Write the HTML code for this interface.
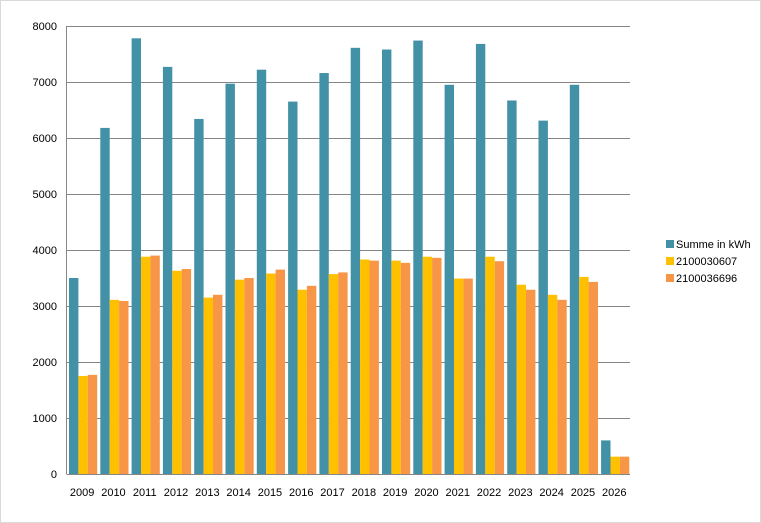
<!DOCTYPE html>
<html><head><meta charset="utf-8"><style>
html,body{margin:0;padding:0;background:#fff}
svg{display:block;font-family:"Liberation Sans",Arial,sans-serif}
</style></head><body>
<svg id="c" width="761" height="523" xmlns="http://www.w3.org/2000/svg">
<rect x="0.5" y="0.5" width="760" height="522" fill="#fff" stroke="#d9d9d9"/>
<g id="grid"></g>
<g id="bars"></g>
<g font-size="11" fill="#000">
<rect x="666" y="240" width="8" height="8" fill="#4391a6"/><text x="676" y="248">Summe in kWh</text>
<rect x="666" y="257" width="8" height="8" fill="#ffc000"/><text x="676" y="265">2100030607</text>
<rect x="666" y="274" width="8" height="8" fill="#f79646"/><text x="676" y="282">2100036696</text>
</g>
</svg>
<script>
var ns="http://www.w3.org/2000/svg",g=document.getElementById("grid"),b=document.getElementById("bars");
function el(p,t,a,txt){var e=document.createElementNS(ns,t);for(var k in a)e.setAttribute(k,a[k]);if(txt!=null)e.textContent=txt;p.appendChild(e);}
var y0=474,s=56/1000,x0=66.5,cw=31.3;
for(var i=0;i<=8;i++){var y=y0-i*56;el(g,"line",{x1:x0,x2:630,y1:y+0.5,y2:y+0.5,stroke:i==0?"#868686":"#868686","stroke-width":1});
el(g,"text",{x:57,y:y+4,"text-anchor":"end","font-size":11},String(i*1000));}
el(g,"line",{x1:x0,x2:x0,y1:26,y2:474,stroke:"#868686"});
var A=[3500,6180,7780,7270,6340,6970,7220,6650,7160,7610,7580,7740,6950,7680,6670,6310,6950,600];
var B=[1750,3110,3880,3630,3150,3470,3580,3290,3570,3830,3810,3880,3490,3880,3380,3200,3520,310];
var C=[1770,3090,3900,3660,3200,3500,3650,3360,3600,3810,3770,3860,3490,3800,3290,3110,3430,310];
var cols=["#4391a6","#ffc000","#f79646"],D=[A,B,C];
for(var i=0;i<18;i++){var st=x0+i*cw+2.5;
for(var j=0;j<3;j++){var h=D[j][i]*s;el(b,"rect",{x:st+j*9.4,y:y0-h,width:9.4,height:h,fill:cols[j]});}
el(b,"text",{x:x0+i*cw+cw/2,y:496,"text-anchor":"middle","font-size":11},String(2009+i));}
</script>
</body></html>
